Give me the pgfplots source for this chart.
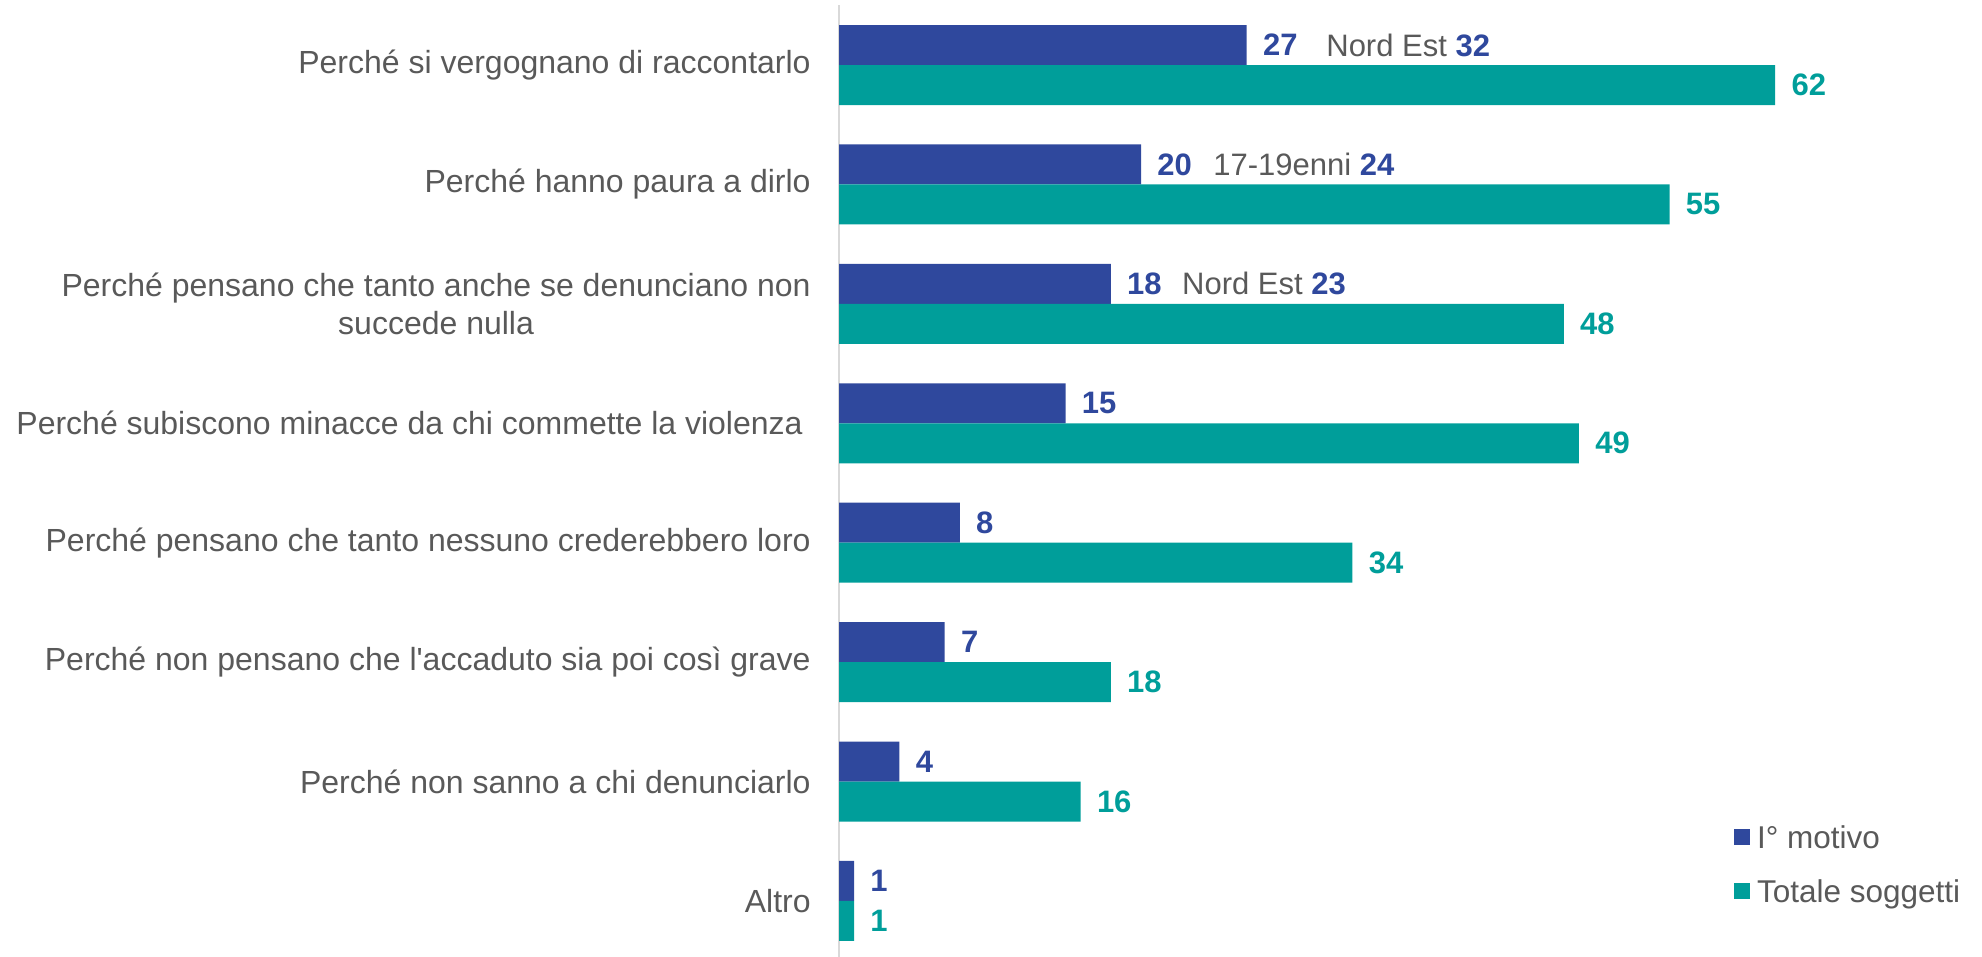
\documentclass[border=0pt]{standalone}
\usepackage{fontspec}
\newfontfamily\arial{Liberation Sans}
\usepackage{pgfplots}
\pgfplotsset{compat=1.18}
\definecolor{motivo}{RGB}{47,72,157}
\definecolor{totale}{RGB}{0,158,154}
\definecolor{lbl}{RGB}{89,89,89}
\definecolor{asse}{RGB}{217,217,217}

\begin{document}
\begin{tikzpicture}[font=\arial]
% page = 1982x957 px at 0.5bp per px
\useasboundingbox (0,0) rectangle (991bp,478.5bp);
\begin{axis}[
    at={(419.5bp,-1.85bp)}, anchor=south west,
    scale only axis, width=566.25bp, height=477.7bp,
    xbar, bar width=20bp,
    xmin=0, xmax=75, ymin=-0.5, ymax=7.5,
    clip=false,
    axis x line=none,
    axis y line*=left,
    y axis line style={asse, line width=1.2bp},
    ytick={0,...,7},
    yticklabels={Altro,
        Perché non sanno a chi denunciarlo,
        Perché non pensano che l'accaduto sia poi così grave,
        Perché pensano che tanto nessuno crederebbero loro,
        Perché subiscono minacce da chi commette la violenza\hspace*{0.25em},
        {Perché pensano che tanto anche se denunciano non\\succede nulla},
        Perché hanno paura a dirlo,
        Perché si vergognano di raccontarlo},
    major tick length=0pt,
    yticklabel style={font=\arial\fontsize{16bp}{19bp}\selectfont, text=lbl,
        align=center, anchor=east, inner sep=0pt, xshift=-14bp},
    /pgf/number format/assume math mode=true,
    nodes near coords,
    nodes near coords style={font=\arial\fontsize{15.5bp}{18bp}\selectfont\bfseries,
        anchor=west, inner sep=0pt, xshift=8bp},
    legend image code/.code={\fill[#1] (0bp,-2.3bp) rectangle (8bp,5.7bp);},
    legend style={draw=none, fill=none, inner sep=0pt,
        at={(0.790,0.141)}, anchor=north west,
        font=\arial\fontsize{15.75bp}{18bp}\selectfont, text=lbl,
        nodes={inner sep=0pt, text height=11bp, text depth=3.5bp},
        column sep=3.5bp, row sep=12.5bp},
    legend cell align=left,
]
\addplot[fill=motivo, draw=none, bar shift=10bp,
    every node near coord/.append style={text=motivo}] coordinates {
    (27,7) (20,6) (18,5) (15,4) (8,3) (7,2) (4,1) (1,0)
};
\addlegendentry{I° motivo}
\addplot[fill=totale, draw=none, bar shift=-10bp,
    every node near coord/.append style={text=totale}] coordinates {
    (62,7) (55,6) (48,5) (49,4) (34,3) (18,2) (16,1) (1,0)
};
\addlegendentry{Totale soggetti}

\node[anchor=west, inner sep=0pt, yshift=10bp, text=lbl,
    font=\arial\fontsize{15.5bp}{18bp}\selectfont] at (axis cs:32.25,7)
    {Nord Est \textcolor{motivo}{\bfseries 32}};
\node[anchor=west, inner sep=0pt, yshift=10bp, text=lbl,
    font=\arial\fontsize{15.5bp}{18bp}\selectfont] at (axis cs:24.77,6)
    {17-19enni \textcolor{motivo}{\bfseries 24}};
\node[anchor=west, inner sep=0pt, yshift=10bp, text=lbl,
    font=\arial\fontsize{15.5bp}{18bp}\selectfont] at (axis cs:22.7,5)
    {Nord Est \textcolor{motivo}{\bfseries 23}};
\end{axis}
\end{tikzpicture}
\end{document}
